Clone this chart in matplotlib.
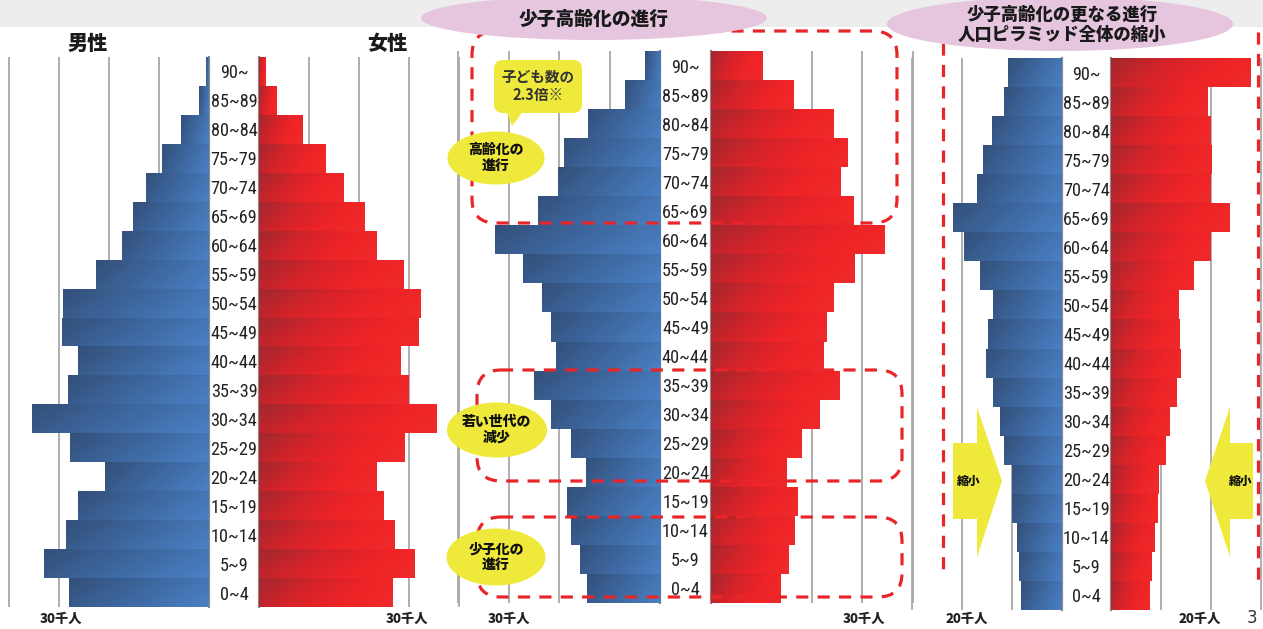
import numpy as np
import matplotlib
matplotlib.use("Agg")
import matplotlib.pyplot as plt
from matplotlib import font_manager as fm
from matplotlib.patches import Ellipse, FancyBboxPatch, Polygon, Rectangle
from matplotlib.colors import LinearSegmentedColormap

# ---------------- data (thousands of people), ordered 0~4 ... 90~ ----------------
ages = ["0~4", "5~9", "10~14", "15~19", "20~24", "25~29", "30~34", "35~39", "40~44",
        "45~49", "50~54", "55~59", "60~64", "65~69", "70~74", "75~79", "80~84", "85~89", "90~"]

p1_male = [28.0, 33.0, 28.6, 26.2, 20.8, 27.8, 35.4, 28.2, 26.2, 29.4, 29.2, 22.6, 17.4, 15.2, 12.6, 9.4, 5.6, 2.0, 0.6]
p1_female = [26.8, 31.2, 27.2, 25.0, 23.6, 29.2, 35.6, 30.0, 28.4, 32.0, 32.4, 29.0, 23.6, 21.2, 17.0, 13.4, 8.8, 3.6, 1.4]

p2_male = [14.5, 15.9, 17.7, 18.5, 14.7, 17.7, 21.7, 25.0, 20.7, 21.7, 23.5, 27.2, 32.8, 24.3, 20.3, 19.1, 14.3, 7.0, 3.0]
p2_female = [13.7, 15.3, 16.5, 17.1, 14.9, 17.9, 21.5, 25.4, 22.3, 22.9, 24.3, 28.4, 34.4, 28.2, 25.6, 27.0, 24.3, 16.3, 10.3]

p3_male = [8.2, 8.6, 9.0, 10.0, 10.0, 11.6, 12.4, 13.8, 15.2, 14.8, 13.8, 16.4, 19.6, 21.8, 17.0, 15.8, 14.0, 11.6, 10.8]
p3_female = [7.8, 8.2, 8.8, 9.4, 9.6, 11.0, 11.8, 13.2, 14.0, 13.8, 13.6, 16.6, 20.0, 23.8, 20.0, 20.2, 20.0, 19.4, 28.0]

unit_labels = ["30千人", "30千人", "20千人"]
male_title, female_title = "男性", "女性"
title2 = "少子高齢化の進行"
title3 = "少子高齢化の更なる進行\n人口ピラミッド全体の縮小"

# ---------------- fonts ----------------
CJK = ["Noto Sans CJK JP", "DejaVu Sans"]


def pick_narrow_font():
    entries = fm.fontManager.ttflist
    prefs = ["Liberation Sans Narrow", "Roboto Condensed", "Open Sans Condensed"]
    for pref in prefs:
        for e in entries:
            if e.name == pref and e.style == "normal" and e.weight in (400, "normal", "regular"):
                return fm.FontProperties(fname=e.fname)
    return fm.FontProperties(family="Liberation Sans")


NARROW_FP = pick_narrow_font()

# ---------------- layout ----------------
W, H = 1263, 629
fig = plt.figure(figsize=(W / 100, H / 100), dpi=100)
fig.patch.set_facecolor("white")


def fx(px):
    return px / W


def fy(py):
    return 1 - py / H


blue_cmap = LinearSegmentedColormap.from_list("b", ["#33507A", "#3E68A0", "#4A80C4"])
red_cmap = LinearSegmentedColormap.from_list("r", ["#A3282E", "#D2232A", "#EE2427", "#F02A2A"])

XG, YG = np.meshgrid(np.linspace(0, 1, 96), np.linspace(0, 1, 12))
GRAD = 0.78 * XG + 0.22 * YG


def gradient_bars(ax, container, cmap):
    for p in container.patches:
        x0, y0 = p.get_x(), p.get_y()
        w, h = p.get_width(), p.get_height()
        lo, hi = sorted([x0, x0 + w])
        left, right = (hi, lo) if ax.xaxis_inverted() else (lo, hi)
        im = ax.imshow(GRAD, cmap=cmap, vmin=0, vmax=1, extent=(left, right, y0, y0 + h),
                       origin="upper", aspect="auto", interpolation="bilinear", zorder=3)
        im.set_clip_path(p)


# panel specs: male zero px, female zero px, px per thousand, top, bottom, grid max
panels = [
    dict(m0=209, f0=259, s=5.0, top=57, bot=607, gmax=40, male=p1_male, female=p1_female),
    dict(m0=660, f0=711, s=5.04, top=51, bot=603, gmax=40, male=p2_male, female=p2_female),
    dict(m0=1062, f0=1111, s=5.0, top=58, bot=610, gmax=30, male=p3_male, female=p3_female),
]

label_axes = []
ypos = np.arange(len(ages))
for pn in panels:
    ext = pn["gmax"] + 0.5
    wpx = ext * pn["s"]
    hfrac = (pn["bot"] - pn["top"]) / H
    axm = fig.add_axes([fx(pn["m0"] - wpx), fy(pn["bot"]), wpx / W, hfrac])
    axf = fig.add_axes([fx(pn["f0"]), fy(pn["bot"]), wpx / W, hfrac])
    for ax, vals, cmap in ((axm, pn["male"], blue_cmap), (axf, pn["female"], red_cmap)):
        ax.set_facecolor("none")
        ax.set_ylim(-0.5, len(ages) - 0.5)
        if ax is axm:
            ax.set_xlim(ext, 0)
        else:
            ax.set_xlim(0, ext)
        ax.set_xticks(np.arange(10, pn["gmax"] + 1, 10))
        ax.tick_params(axis="x", length=0, labelbottom=False)
        ax.grid(axis="x", color="#A8A8A8", lw=1.3)
        ax.set_axisbelow(True)
        for sp in ax.spines.values():
            sp.set_visible(False)
        bars = ax.barh(ypos, vals, height=1.0, color="#4A80C4" if ax is axm else "#EE2427",
                       edgecolor="none", zorder=2)
        gradient_bars(ax, bars, cmap)
    axm.spines["right"].set_visible(True)
    axm.spines["right"].set_color("#8E8E8E")
    axm.spines["right"].set_linewidth(1.6)
    axm.set_yticks([])
    axf.spines["left"].set_visible(True)
    axf.spines["left"].set_color("#8E8E8E")
    axf.spines["left"].set_linewidth(1.6)
    gap = pn["f0"] - pn["m0"]
    axf.set_yticks(ypos, ages)
    axf.tick_params(axis="y", length=0, pad=gap / 2 * 0.72)
    for lbl in axf.get_yticklabels():
        lbl.set_horizontalalignment("center")
        lbl.set_fontproperties(NARROW_FP)
        lbl.set_fontsize(15)
        lbl.set_color("#222222")
    label_axes.append(axf)

# shrink age labels so that the widest fits into the ~47 px gap
fig.canvas.draw()
renderer = fig.canvas.get_renderer()
widest = max(l.get_window_extent(renderer).width for a in label_axes for l in a.get_yticklabels())
if widest > 47:
    new_size = 15 * 47 / widest
    for a in label_axes:
        for l in a.get_yticklabels():
            l.set_fontsize(new_size)

# ---------------- overlay annotations ----------------
ov = fig.add_axes([0, 0, 1, 1], zorder=10)
ov.set_xlim(0, W)
ov.set_ylim(H, 0)
ov.axis("off")
ov.patch.set_alpha(0)

ov.add_patch(Rectangle((0, 0), W, 27, facecolor="#EDEDED", edgecolor="none", zorder=0))

RED = "#E8262A"


def dashed_box(x0, y0, x1, y1):
    b = FancyBboxPatch((x0, y0), x1 - x0, y1 - y0, boxstyle="round,pad=0,rounding_size=24",
                       facecolor="none", edgecolor=RED, lw=2.3, zorder=2)
    b.set_linestyle((0, (3.8, 2.9)))
    ov.add_patch(b)


dashed_box(472, 31, 897, 223)
dashed_box(477, 370, 902, 481)
dashed_box(477, 517, 902, 597)
ov.plot([943, 943], [43, 578], color=RED, lw=2.3, ls=(0, (3.8, 2.9)), zorder=2)
ov.plot([1258, 1258], [32, 588], color=RED, lw=2.3, ls=(0, (3.8, 2.9)), zorder=2)

PINK = "#E6C5DE"
ov.add_patch(Ellipse((594, 18), 346, 44, facecolor=PINK, edgecolor="none", zorder=3))
ov.add_patch(Ellipse((1060, 24), 346, 54, facecolor=PINK, edgecolor="none", zorder=3))
ov.text(594, 19, title2, ha="center", va="center", fontsize=13.5, fontweight=900,
        family=CJK, color="#1A1A1A", zorder=4)
ov.text(1062, 25, title3, ha="center", va="center", fontsize=12.5, fontweight=900,
        family=CJK, color="#1A1A1A", linespacing=1.15, zorder=4)

ov.text(88, 44, male_title, ha="center", va="center", fontsize=14.5, fontweight=900,
        family=CJK, color="#1A1A1A", zorder=4)
ov.text(387, 44, female_title, ha="center", va="center", fontsize=14.5, fontweight=900,
        family=CJK, color="#1A1A1A", zorder=4)

YEL = "#EEE93A"
# speech bubble
ov.add_patch(FancyBboxPatch((494, 60), 88, 53, boxstyle="round,pad=0,rounding_size=9",
                            facecolor=YEL, edgecolor="none", zorder=5))
ov.add_patch(Polygon([[506, 110], [524, 110], [512, 126]], closed=True, facecolor=YEL,
                     edgecolor="none", zorder=5))
ov.text(538, 86, "子ども数の\n2.3倍※", ha="center", va="center", fontsize=10.5,
        fontweight="bold", family=CJK, color="#333333", linespacing=1.15, zorder=6)

for (cx, cy, w, h, txt) in [(496, 158, 97, 53, "高齢化の\n進行"),
                             (497, 430, 100, 55, "若い世代の\n減少"),
                             (496, 557, 99, 57, "少子化の\n進行")]:
    ov.add_patch(Ellipse((cx, cy), w, h, facecolor=YEL, edgecolor="none", zorder=5))
    ov.text(cx, cy, txt, ha="center", va="center", fontsize=10, fontweight=900,
            family=CJK, color="#111111", linespacing=1.15, zorder=6)

# arrows in panel 3
ov.add_patch(Polygon([[953, 443], [977, 443], [977, 407], [1002, 481], [977, 557], [977, 519], [953, 519]],
                     closed=True, facecolor=YEL, edgecolor="none", zorder=5))
ov.add_patch(Polygon([[1253, 443], [1230, 443], [1230, 407], [1205, 481], [1230, 557], [1230, 519], [1253, 519]],
                     closed=True, facecolor=YEL, edgecolor="none", zorder=5))
ov.text(969, 481, "縮小", ha="center", va="center", fontsize=8.5, fontweight=900,
        family=CJK, color="#111111", zorder=6)
ov.text(1241, 481, "縮小", ha="center", va="center", fontsize=8.5, fontweight=900,
        family=CJK, color="#111111", zorder=6)

# unit labels
for (x, lab) in [(61, unit_labels[0]), (407, unit_labels[0]), (509, unit_labels[1]),
                 (864, unit_labels[1]), (967, unit_labels[2]), (1200, unit_labels[2])]:
    ov.text(x, 619, lab, ha="center", va="center", fontsize=9.5, fontweight=900,
            family=CJK, color="#222222", zorder=6)

ov.text(1252, 627, "3", ha="center", va="bottom", fontsize=12, color="#333333", zorder=6)

fig.savefig("out.png", dpi=100, facecolor="white")
